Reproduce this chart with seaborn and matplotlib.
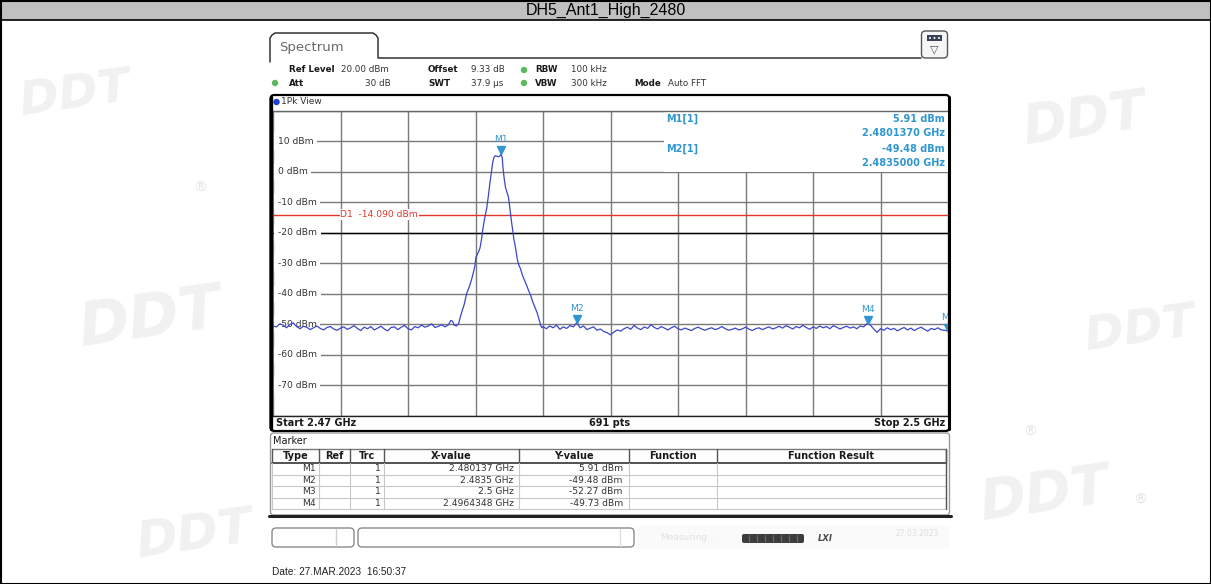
import numpy as np
import matplotlib.pyplot as plt
import seaborn as sns
from matplotlib.patches import Rectangle, FancyBboxPatch, Circle
from matplotlib.transforms import offset_copy


# Sweep settings
START_GHZ = 2.47
STOP_GHZ = 2.50
SWEEP_POINTS = 691

# Trace (MHz above start, dBm)
left_floor_dbm = [
    -50.6, -50.9, -49.9, -50.3, -51.2, -50.1, -49.6, -50.8, -51.5, -50.7,
    -51.0, -51.8, -51.2, -50.6, -51.4, -51.9, -51.1, -50.8, -51.6, -52.0,
    -51.3, -50.9, -51.7, -51.2, -50.5, -51.4, -52.1, -51.0, -51.5, -50.8,
    -51.9, -51.3, -50.7, -51.6, -52.2, -51.1, -50.9, -51.8, -51.0, -50.4,
    -51.5, -51.9, -50.8, -51.2, -50.3, -51.0, -50.6, -49.9, -51.1, -50.7,
    -50.2, -50.9,
]

edge_mhz = [
    7.80, 7.90, 7.98, 8.05, 8.15, 8.25, 8.33, 8.40, 8.50, 8.61,
    8.72, 8.82, 8.90, 8.97, 9.02, 9.12, 9.20, 9.27, 9.32, 9.40,
    9.50, 9.57, 9.64, 9.70, 9.76, 9.82, 9.88, 9.96, 10.04, 10.10,
    10.14, 10.19, 10.22, 10.28, 10.33, 10.40, 10.46, 10.52, 10.58, 10.64,
    10.70, 10.78, 10.86, 10.92, 11.00, 11.08, 11.16, 11.25, 11.35, 11.45,
    11.55, 11.65, 11.75, 11.82, 11.90, 11.96,
]
edge_dbm = [
    -50.2, -48.8, -49.0, -50.3, -50.6, -49.8, -47.5, -45.8, -43.5, -39.8,
    -37.8, -35.5, -33.2, -31.0, -28.0, -26.5, -25.0, -22.0, -19.1, -15.5,
    -11.9, -8.0, -3.6, -0.5, 2.9, 4.8, 5.3, 5.1, 5.0, 5.4,
    5.91, 4.5, 1.5, -2.5, -5.0, -6.8, -8.1, -11.5, -15.2, -18.5,
    -21.8, -25.0, -28.8, -30.5, -31.8, -33.8, -35.3, -36.8, -38.8, -40.5,
    -42.8, -44.6, -46.5, -48.3, -50.5, -51.2,
]

right_floor_dbm = [
    -50.8, -51.5, -50.6, -51.2, -50.3, -51.7, -50.9, -51.4, -50.5, -50.9,
    -49.5,
    -51.2, -50.6, -51.8, -51.3, -50.9, -52.0, -51.6, -52.4, -52.8,
    -53.5,
    -52.6, -51.9, -52.3, -51.5, -51.0, -51.7, -50.4, -51.3, -51.8,
    -50.9, -51.4, -50.2, -51.1, -51.6, -50.8, -51.3, -51.9, -51.2, -50.7,
    -51.5, -51.9, -51.3, -51.7, -52.1, -51.4, -51.0, -51.6, -52.0, -51.5,
    -51.2, -51.8, -51.4, -50.8, -51.5, -52.0, -51.7, -51.3, -51.9, -51.6,
    -51.0, -51.6, -52.1, -51.5, -51.2, -51.8, -51.3, -50.9, -51.6, -51.2,
    -50.7, -51.3, -50.5, -51.0, -51.6, -50.8, -51.2, -50.4, -51.1, -51.7,
    -50.9, -51.4, -50.6, -51.2, -50.8, -51.5, -50.5, -51.0, -51.6, -51.1,
    -50.7, -51.3, -50.9, -51.5, -50.6, -50.9,
    -49.8, -50.3, -51.6, -52.7,
    -51.5, -52.0, -51.2, -51.8, -51.4, -52.2, -51.6, -51.1, -51.9, -51.3,
    -52.1, -51.5, -51.0, -51.7, -52.3, -51.4, -51.8, -51.2, -51.9, -52.0,
    -52.27,
]

# Levels and markers
level_lines_dbm = [10, 0, -10, -20, -30, -40, -50, -60, -70]
d1_dbm = -14.090

marker_names = ["M1", "M2", "M3", "M4"]
marker_ghz = [2.480137, 2.4835, 2.5, 2.4964348]
marker_dbm = [5.91, -49.48, -52.27, -49.73]
marker_x_text = ["2.480137 GHz", "2.4835 GHz", "2.5 GHz", "2.4964348 GHz"]
marker_y_text = ["5.91 dBm", "-49.48 dBm", "-52.27 dBm", "-49.73 dBm"]
table_headers = ["Type", "Ref", "Trc", "X-value", "Y-value", "Function", "Function Result"]

title = "DH5_Ant1_High_2480"
date_text = "Date: 27.MAR.2023  16:50:37"


# ============================================
# Build the trace
# ============================================
left_mhz = np.linspace(0.0, 7.65, len(left_floor_dbm))
right_mhz = np.linspace(12.0, 30.0, len(right_floor_dbm))
trace_mhz = np.concatenate([left_mhz, edge_mhz, right_mhz])
trace_dbm = np.concatenate([left_floor_dbm, edge_dbm, right_floor_dbm])
trace_ghz = START_GHZ + trace_mhz / 1000.0


# ============================================
# Figure setup (pixel layout helpers)
# ============================================
sns.set_style("white")
plt.rcParams["font.family"] = ["DejaVu Sans"]

W, H = 1211, 584
fig = plt.figure(figsize=(W / 100, H / 100), dpi=100)


def px_rect(x0, y0, x1, y1):
    return [x0 / W, 1 - y1 / H, (x1 - x0) / W, (y1 - y0) / H]


bg = fig.add_axes([0, 0, 1, 1])
bg.set_xlim(0, W)
bg.set_ylim(H, 0)
bg.axis("off")

TRACE = "#3c46c8"
MK = "#2f96d0"
RED = "#e0372b"
INK = "#1a1a1a"
SANS = ["Liberation Sans", "DejaVu Sans"]

# faint watermark logos
for wx, wy, fs in [(75, 95, 34), (1085, 120, 38), (150, 320, 44),
                   (1140, 330, 34), (1045, 495, 40), (195, 535, 36)]:
    bg.text(wx, wy, "DDT", fontsize=fs, fontweight="bold", style="italic",
            color="#f1f1f1", ha="center", va="center", rotation=8, zorder=0)
for wx, wy in [(200, 188), (1030, 432), (1140, 500)]:
    bg.text(wx, wy, "\u00ae", fontsize=10, color="#e4e4e4", ha="center", va="center")

# title bar
bg.add_patch(Rectangle((0, 0), W, 20, fc="#c0c0c0", ec="none"))
bg.plot([0, W], [20, 20], color="black", lw=1.2)
bg.text(W / 2, 10.5, title, fontsize=11.5, family=SANS, ha="center", va="center", color="black")

# spectrum tab
bg.plot([270, 270, 272, 275, 373, 376, 378, 378, 921],
        [62, 38, 35, 33, 33, 35, 38, 58, 58], color="#333333", lw=1.1)
bg.text(279, 47, "Spectrum", fontsize=9.5, color="#6a6a6a", va="center")

# icon at top right
bg.add_patch(FancyBboxPatch((921.5, 31), 26, 27, boxstyle="round,pad=0,rounding_size=4",
                            fc="#f6f6f6", ec="#555555", lw=1))
bg.add_patch(Rectangle((927, 35), 15, 6, fc="#3a3f5a", ec="none"))
for dx in [930, 934.5, 939]:
    bg.add_patch(Circle((dx, 38), 1.0, fc="white", ec="none"))
bg.text(934.5, 49, "\u25bd", fontsize=8, color="#555555", ha="center", va="center")

# header settings
HF = 6.3
row1, row2 = 70, 83
bg.text(289, row1, "Ref Level", fontsize=HF, fontweight="bold", va="center", color=INK)
bg.text(341, row1, "20.00 dBm", fontsize=HF, va="center", color="#333333")
bg.text(428, row1, "Offset", fontsize=HF, fontweight="bold", va="center", color=INK)
bg.text(471, row1, "9.33 dB", fontsize=HF, va="center", color="#333333")
bg.text(535, row1, "RBW", fontsize=HF, fontweight="bold", va="center", color=INK)
bg.text(571, row1, "100 kHz", fontsize=HF, va="center", color="#333333")
bg.text(289, row2, "Att", fontsize=HF, fontweight="bold", va="center", color=INK)
bg.text(391, row2, "30 dB", fontsize=HF, va="center", ha="right", color="#333333")
bg.text(428, row2, "SWT", fontsize=HF, fontweight="bold", va="center", color=INK)
bg.text(471, row2, "37.9 \u00b5s", fontsize=HF, va="center", color="#333333")
bg.text(535, row2, "VBW", fontsize=HF, fontweight="bold", va="center", color=INK)
bg.text(571, row2, "300 kHz", fontsize=HF, va="center", color="#333333")
bg.text(634, row2, "Mode", fontsize=HF, fontweight="bold", va="center", color=INK)
bg.text(668, row2, "Auto FFT", fontsize=HF, va="center", color="#333333")
for cx, cy in [(524, row1), (524, row2), (275, row2)]:
    bg.add_patch(Circle((cx, cy), 3.2, fc="#5cb85c", ec="none"))

# pane with "1Pk View"
bg.add_patch(Circle((276.5, 102), 3.2, fc="#1f3fd0", ec="none"))
bg.text(281, 102, "1Pk View", fontsize=6.5, va="center", color="#333333")

# ============================================
# Spectrum trace
# ============================================
ax = fig.add_axes(px_rect(273, 111, 948, 415.5))
ax.set_facecolor("white")

sns.lineplot(x=trace_ghz, y=trace_dbm, ax=ax, color=TRACE, linewidth=0.9,
             estimator=None, sort=False, zorder=4)

ax.set_xlim(START_GHZ, STOP_GHZ)
ax.set_ylim(-80, 20)
ax.set_xticks(np.linspace(START_GHZ, STOP_GHZ, 11))
ax.set_yticks(np.arange(-80, 21, 10))
ax.grid(True, color="#7a7a7a", lw=1.0)
ax.set_axisbelow(True)
ax.tick_params(length=0, labelbottom=False, labelleft=False)
ax.set_xlabel("")
ax.set_ylabel("")
for s in ax.spines.values():
    s.set_visible(False)
ax.axhline(-20, color="black", lw=1.0, zorder=1)

for v in level_lines_dbm:
    ax.text(START_GHZ + 0.00022, v, f"{v} dBm", fontsize=6.6, color="#333333",
            va="center", ha="left", zorder=2,
            bbox=dict(fc="white", ec="none", pad=2.6))

ax.axhline(d1_dbm, color=RED, lw=1.0, zorder=2.5)
ax.text(START_GHZ + 0.003, d1_dbm, "D1  -14.090 dBm", fontsize=6.6, color=RED,
        va="center", ha="left", zorder=2.6, bbox=dict(fc="white", ec="none", pad=0.6))

tri = offset_copy(ax.transData, fig=fig, x=0, y=3.5, units="dots")
ax.plot(marker_ghz, marker_dbm, ls="none", marker="v", ms=5.5, color=MK,
        transform=tri, zorder=6, clip_on=True)
for name, g, d in zip(marker_names, marker_ghz, marker_dbm):
    ax.annotate(name, (g, d), xytext=(0, 14), textcoords="offset pixels",
                fontsize=6.6, color=MK, ha="center", va="center", zorder=6,
                annotation_clip=False, clip_on=True)

# ============================================
# Overlay: marker readout, frames, table
# ============================================
top = fig.add_axes([0, 0, 1, 1])
top.set_xlim(0, W)
top.set_ylim(H, 0)
top.axis("off")
top.patch.set_alpha(0)

top.add_patch(Rectangle((664, 112), 284, 59.5, fc="white", ec="none"))
MF = 7
top.text(666, 119, "M1[1]", fontsize=MF, fontweight="bold", color=MK, va="center")
top.text(945, 119, f"{marker_dbm[0]:.2f} dBm", fontsize=MF, fontweight="bold", color=MK,
         va="center", ha="right")
top.text(945, 133, "2.4801370 GHz", fontsize=MF, fontweight="bold", color=MK,
         va="center", ha="right")
top.text(666, 149, "M2[1]", fontsize=MF, fontweight="bold", color=MK, va="center")
top.text(945, 149, f"{marker_dbm[1]:.2f} dBm", fontsize=MF, fontweight="bold", color=MK,
         va="center", ha="right")
top.text(945, 163, "2.4835000 GHz", fontsize=MF, fontweight="bold", color=MK,
         va="center", ha="right")

# pane frame
top.plot([271, 949], [111, 111], color="#666666", lw=1)
top.plot([271, 949], [415.5, 415.5], color="#222222", lw=1)
top.add_patch(FancyBboxPatch((270.5, 95), 679, 336, boxstyle="round,pad=0,rounding_size=4",
                             fc="none", ec="black", lw=1.6))
top.plot([271, 271], [97, 429], color="black", lw=2.4)
top.plot([949, 949], [97, 429], color="black", lw=2.2)

# start / stop row
SF = 7
top.text(276, 423, f"Start {START_GHZ:.2f} GHz", fontsize=SF, fontweight="bold", va="center", color=INK)
top.text(610, 423, f"{SWEEP_POINTS} pts", fontsize=SF, fontweight="bold",
         va="center", ha="center", color=INK)
top.text(945, 423, f"Stop {STOP_GHZ:.1f} GHz", fontsize=SF, fontweight="bold",
         va="center", ha="right", color=INK)

# marker panel
top.add_patch(FancyBboxPatch((270.5, 433), 679, 82, boxstyle="round,pad=0,rounding_size=3",
                             fc="none", ec="#9a9a9a", lw=1))
top.plot([269, 951], [516, 516], color="#222222", lw=2.2)
top.text(273, 441, "Marker", fontsize=7, va="center", color=INK)

col_edges = [272.4, 318.7, 349.6, 383.6, 519.4, 628.8, 717.0, 945.5]
row_edges = [449, 463, 474.5, 486, 497.5, 509]
TF = 6.6

top.plot([col_edges[0], col_edges[-1]], [row_edges[0], row_edges[0]], color="#777777", lw=1)
top.plot([col_edges[0], col_edges[-1]], [row_edges[1], row_edges[1]], color="#333333", lw=1.2)
for y in row_edges[2:]:
    top.plot([col_edges[0], col_edges[-1]], [y, y], color="#c8c8c8", lw=0.8)
for x in col_edges:
    top.plot([x, x], [row_edges[0], row_edges[1]], color="#555555", lw=1)
    top.plot([x, x], [row_edges[1], row_edges[-1]], color="#c8c8c8", lw=0.8)
top.plot([col_edges[-1], col_edges[-1]], [row_edges[0], row_edges[-1]], color="#555555", lw=1)

for i, h in enumerate(table_headers):
    top.text((col_edges[i] + col_edges[i + 1]) / 2, (row_edges[0] + row_edges[1]) / 2, h,
             fontsize=TF + 0.4, fontweight="bold", ha="center", va="center", color=INK)

for r, name in enumerate(marker_names):
    cy = (row_edges[r + 1] + row_edges[r + 2]) / 2
    top.text(col_edges[1] - 3, cy, name, fontsize=TF, ha="right", va="center", color="#333333")
    top.text(col_edges[3] - 3, cy, "1", fontsize=TF, ha="right", va="center", color="#333333")
    top.text(col_edges[4] - 6, cy, marker_x_text[r], fontsize=TF, ha="right", va="center", color="#333333")
    top.text(col_edges[5] - 6, cy, marker_y_text[r], fontsize=TF, ha="right", va="center", color="#333333")

# status bar
top.add_patch(FancyBboxPatch((272, 528), 82, 19, boxstyle="round,pad=0,rounding_size=4",
                             fc="white", ec="#8a8a8a", lw=1))
top.plot([336, 336], [529, 546], color="#cfcfcf", lw=1)
top.add_patch(FancyBboxPatch((358, 528), 276, 19, boxstyle="round,pad=0,rounding_size=4",
                             fc="white", ec="#8a8a8a", lw=1))
top.plot([620, 620], [529, 546], color="#dcdcdc", lw=1)
top.add_patch(Rectangle((636, 526), 314, 23, fc="#fafafa", ec="none"))
top.text(660, 538, "Measuring...", fontsize=6.5, color="#e2e2e2", va="center")
top.add_patch(FancyBboxPatch((742, 534), 62, 9, boxstyle="round,pad=0,rounding_size=2",
                             fc="#3c3c3c", ec="none"))
for x in np.linspace(749, 797, 7):
    top.plot([x, x], [535, 542], color="#6a6a6a", lw=0.8)
top.text(818, 538.5, "LXI", fontsize=6, fontweight="bold", style="italic", color="#4a4a4a", va="center")
top.text(895, 534, "27.03.2023", fontsize=5.5, color="#dedede", va="center")

# date line
top.text(272, 572, date_text, fontsize=7.3, family=SANS, va="center", color="#222222")

# outer border
top.add_patch(Rectangle((0.5, 0.5), W - 1, H - 1, fc="none", ec="black", lw=1.5))

fig.savefig("out.png", dpi=100)
